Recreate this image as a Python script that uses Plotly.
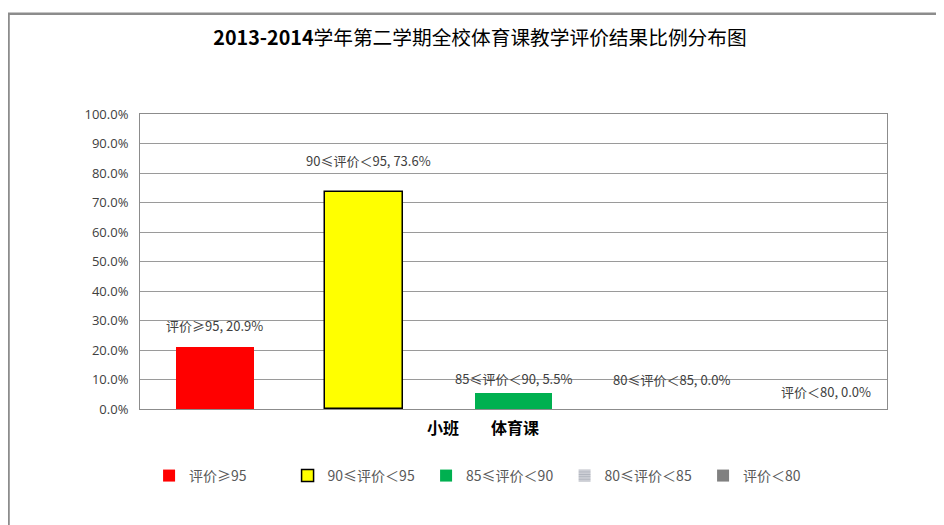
import plotly.graph_objects as go

category = "小班　　体育课"
series_names = ["评价≥95", "90≤评价＜95", "85≤评价＜90", "80≤评价＜85", "评价＜80"]
values = [0.209, 0.736, 0.055, 0.0, 0.0]
label_texts = ["评价≥95, 20.9%", "90≤评价＜95, 73.6%", "85≤评价＜90, 5.5%", "80≤评价＜85, 0.0%", "评价＜80, 0.0%"]
colors = ["#FF0000", "#FFFF00", "#00B050", "#A6A9B4", "#808080"]
line_colors = ["#FF0000", "#000000", "#00B050", "#A6A9B4", "#808080"]
line_widths = [0, 1.5, 0, 0, 0]
label_yshift = [22, 31, 14, 30, 18]
label_xshift = [0, 4, 0, 9, 14]

CJK = "Noto Sans CJK SC"
TXT = "#404040"

fig = go.Figure()
for i, name in enumerate(series_names):
    marker = dict(color=colors[i], line=dict(color=line_colors[i], width=line_widths[i]))
    if i == 3:
        marker["pattern"] = dict(shape="-", fgcolor="#8A8F9C", bgcolor="#D0D2D8", size=3, solidity=0.4)
    fig.add_trace(go.Bar(x=[i], y=[values[i]], name=name, width=0.52, marker=marker,
                         hoverinfo="skip"))
    fig.add_annotation(x=i, y=values[i], text=label_texts[i], showarrow=False,
                       xref="x", yref="y", yshift=label_yshift[i], xshift=label_xshift[i],
                       font=dict(family=CJK, size=13, color=TXT))

fig.add_annotation(x=(len(series_names) - 1) / 2, y=0, xref="x", yref="y", text="<b>" + category + "</b>",
                   showarrow=False, yshift=-18, xshift=-31,
                   font=dict(family=CJK, size=16, color="#000000"))

# outer chart frame (Excel chart border)
fig.add_shape(type="rect", xref="paper", yref="paper", x0=-0.176, x1=1.3, y0=-0.6, y1=1.34,
              line=dict(color="#8C8C8C", width=2.5), fillcolor="rgba(0,0,0,0)", layer="below")

fig.update_layout(
    width=944, height=525,
    margin=dict(l=132, r=65, t=106, b=124),
    paper_bgcolor="#FFFFFF", plot_bgcolor="#FFFFFF",
    title=dict(text="<b>2013-2014</b>学年第二学期全校体育课教学评价结果比例分布图", x=0.5, xanchor="center",
               y=0.943, yanchor="middle", yref="container",
               font=dict(family=CJK, size=19.7, color="#000000")),
    showlegend=True,
    legend=dict(orientation="h", x=0.476, xanchor="center", y=-0.227, yanchor="middle",
                font=dict(family=CJK, size=14, color="#595959"), itemwidth=30,
                entrywidth=93.5, entrywidthmode="pixels",
                traceorder="normal"),
    xaxis=dict(range=[-0.5, 4.5], showticklabels=False, showgrid=False, zeroline=False,
               showline=True, linecolor="#8C8C8C", linewidth=1, mirror=True, ticks=""),
    yaxis=dict(range=[0, 1], dtick=0.1, tickformat=".1%", showgrid=True, gridcolor="#9A9A9A",
               gridwidth=1, zeroline=False, showline=True, linecolor="#8C8C8C", linewidth=1,
               mirror=True, ticks="", ticklabelstandoff=8,
               tickfont=dict(family="Open Sans", size=13, color=TXT)),
    bargap=0,
)

fig.write_html("out.html")
